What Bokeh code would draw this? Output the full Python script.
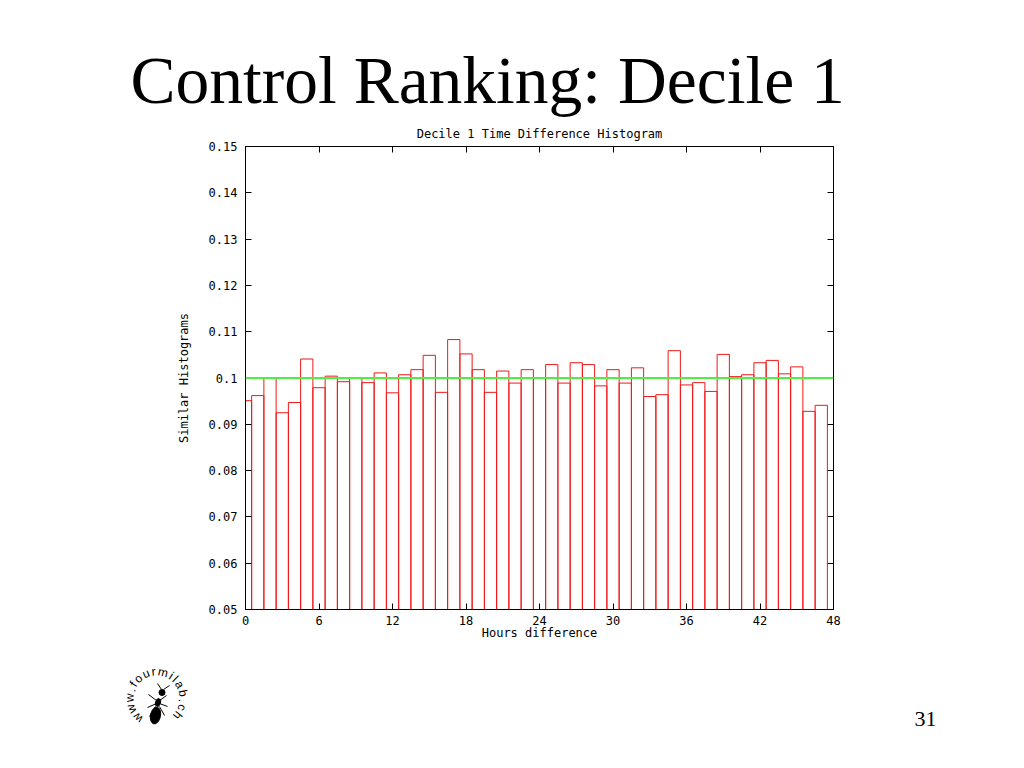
import math
from bokeh.plotting import figure
from bokeh.layouts import column
from bokeh.models import Span, LinearAxis, FixedTicker, ColumnDataSource, Range1d
from bokeh.core.properties import value
from bokeh.embed import file_html
from bokeh.resources import INLINE

# ---------------- data ----------------
slide_title = "Control Ranking: Decile 1"
chart_title = "Decile 1 Time Difference Histogram"
x_label = "Hours difference"
y_label = "Similar Histograms"
page_number = "31"
logo_text = "www.fourmilab.ch"

hours = list(range(48))
fractions = [0.0951, 0.0962, 0.1000, 0.0925, 0.0947, 0.1041, 0.0979, 0.1004,
             0.0992, 0.1000, 0.0990, 0.1011, 0.0968, 0.1007, 0.1018, 0.1049,
             0.0969, 0.1083, 0.1052, 0.1018, 0.0969, 0.1015, 0.0989, 0.1018,
             0.1000, 0.1029, 0.0989, 0.1033, 0.1029, 0.0983, 0.1018, 0.0989,
             0.1022, 0.0960, 0.0964, 0.1059, 0.0985, 0.0990, 0.0971, 0.1051,
             0.1003, 0.1007, 0.1033, 0.1038, 0.1009, 0.1024, 0.0928, 0.0941]
reference_level = 0.1

x_ticks = [0, 6, 12, 18, 24, 30, 36, 42, 48]
y_ticks = [0.05, 0.06, 0.07, 0.08, 0.09, 0.1, 0.11, 0.12, 0.13, 0.14, 0.15]
y_tick_labels = ["0.05", "0.06", "0.07", "0.08", "0.09", "0.1",
                 "0.11", "0.12", "0.13", "0.14", "0.15"]

MONO = "DejaVu Sans Mono"
SERIF = "Liberation Serif"
MONO_SIZE = "12px"
W = 1016
TOP_H = 141       # slide title band (screen y 0..141)
MAIN_H = 509      # chart band (screen y 141..650)
BOT_H = 110       # footer band (screen y 650..760)


def no_align(f):
    try:
        f.frame_align = False
    except AttributeError:
        pass
    return f


def blank_fig(height, y0):
    f = figure(width=W, height=height, x_range=Range1d(0, W),
               y_range=Range1d(y0 + height, y0),
               x_axis_type=None, y_axis_type=None,
               output_backend="svg", toolbar_location=None,
               min_border=0, outline_line_color=None,
               background_fill_color="white", border_fill_color="white")
    f.grid.visible = False
    return no_align(f)


# ---------------- top band: slide title + chart title ----------------
top = blank_fig(TOP_H, 0)
top.text(x=[130], y=[80], text=[slide_title], text_font=value(SERIF),
         text_font_size=value("67.5px"), text_color="black",
         text_align="left", text_baseline="alphabetic")
top.text(x=[539], y=[133.5], text=[chart_title], text_font=value(MONO),
         text_font_size=value(MONO_SIZE), text_color="black",
         text_align="center", text_baseline="alphabetic")

# ---------------- main chart ----------------
p = figure(width=W, height=MAIN_H,
           x_range=Range1d(0, 48), y_range=Range1d(0.05, 0.15),
           output_backend="svg", toolbar_location=None,
           min_border_left=245, min_border_right=W - 833,
           min_border_top=146 - TOP_H, min_border_bottom=TOP_H + MAIN_H - 609,
           background_fill_color="white", border_fill_color="white",
           outline_line_color="black", outline_line_width=1)
p.grid.visible = False
no_align(p)

src = ColumnDataSource(dict(
    left=[h - 0.5 for h in hours],
    right=[h + 0.5 for h in hours],
    top=fractions,
    bottom=[0.0] * len(hours),
))
p.quad(left="left", right="right", top="top", bottom="bottom", source=src,
       fill_color="white", fill_alpha=0.0, line_color="#f01818", line_width=1)

p.add_layout(Span(location=reference_level, dimension="width",
                  line_color="#50ee40", line_width=2))


def style_axis(ax, show_labels):
    ax.major_tick_in = 6
    ax.major_tick_out = 0
    ax.minor_tick_in = 0
    ax.minor_tick_out = 0
    ax.axis_line_color = "black"
    ax.major_tick_line_color = "black"
    ax.major_label_text_font = MONO
    ax.major_label_text_font_size = MONO_SIZE
    ax.major_label_text_color = "black"
    ax.axis_label_text_font = MONO
    ax.axis_label_text_font_size = MONO_SIZE
    ax.axis_label_text_font_style = "normal"
    ax.axis_label_text_color = "black"
    if not show_labels:
        ax.major_label_text_alpha = 0.0
        ax.major_label_text_font_size = "1px"
        ax.major_label_standoff = 0


xa = p.xaxis[0]
xa.ticker = FixedTicker(ticks=x_ticks)
style_axis(xa, True)
xa.axis_label = x_label
xa.major_label_standoff = 6
xa.axis_label_standoff = -2

ya = p.yaxis[0]
ya.ticker = FixedTicker(ticks=y_ticks)
ya.major_label_overrides = {t: s for t, s in zip(y_ticks, y_tick_labels)}
style_axis(ya, True)
ya.axis_label = y_label
ya.major_label_standoff = 8
ya.axis_label_standoff = 15

top_ax = LinearAxis(ticker=FixedTicker(ticks=x_ticks))
style_axis(top_ax, False)
p.add_layout(top_ax, "above")
right_ax = LinearAxis(ticker=FixedTicker(ticks=y_ticks))
style_axis(right_ax, False)
p.add_layout(right_ax, "right")

# ---------------- footer: logo + page number ----------------
bot = blank_fig(BOT_H, TOP_H + MAIN_H)
bot.text(x=[936], y=[718], text=[page_number], text_font=value(SERIF),
         text_font_size=value("22px"), text_color="black",
         text_align="right", text_baseline="alphabetic")

# logo text laid out clockwise on an arc, spaced by approximate glyph widths
glyph_w = {"w": 8.7, ".": 3.3, "f": 3.3, "o": 6.7, "u": 6.7, "r": 4.0, "m": 10.0,
           "i": 2.7, "l": 2.7, "a": 6.7, "b": 6.7, "c": 6.0, "h": 6.7}
cx, cy, r, track, start = 156, 698, 27, 2.5, 226.0
angles = [start]
for a_ch, b_ch in zip(logo_text[:-1], logo_text[1:]):
    gap = (glyph_w[a_ch] + glyph_w[b_ch]) / 2 + track
    angles.append(angles[-1] - math.degrees(gap / r))
lx = [cx + r * math.cos(math.radians(a)) for a in angles]
ly = [cy - r * math.sin(math.radians(a)) for a in angles]
la = [math.radians(a - 90) for a in angles]
bot.text(x=lx, y=ly, text=list(logo_text), angle=la,
         text_font=value("Liberation Sans"), text_font_size=value("12px"),
         text_color="black", text_align="center", text_baseline="middle")

# ant
bot.ellipse(x=[155.0, 157.5, 161.5], y=[715.0, 702.0, 692.0],
            width=[10, 5, 6], height=[17, 8, 6], angle=[-0.2, -0.3, 0.0],
            fill_color="black", line_color="black")
bot.multi_line(xs=[[156, 148], [159, 166], [156, 147], [159, 167], [155, 149], [159, 164],
                   [161, 157], [163, 169]],
               ys=[[700, 694], [700, 695], [703, 707], [703, 706], [706, 716], [706, 715],
                   [689, 683], [689, 685]],
               line_color="black", line_width=1)

layout = column(top, p, bot, spacing=0)
open("out.html", "w").write(file_html(layout, INLINE))
